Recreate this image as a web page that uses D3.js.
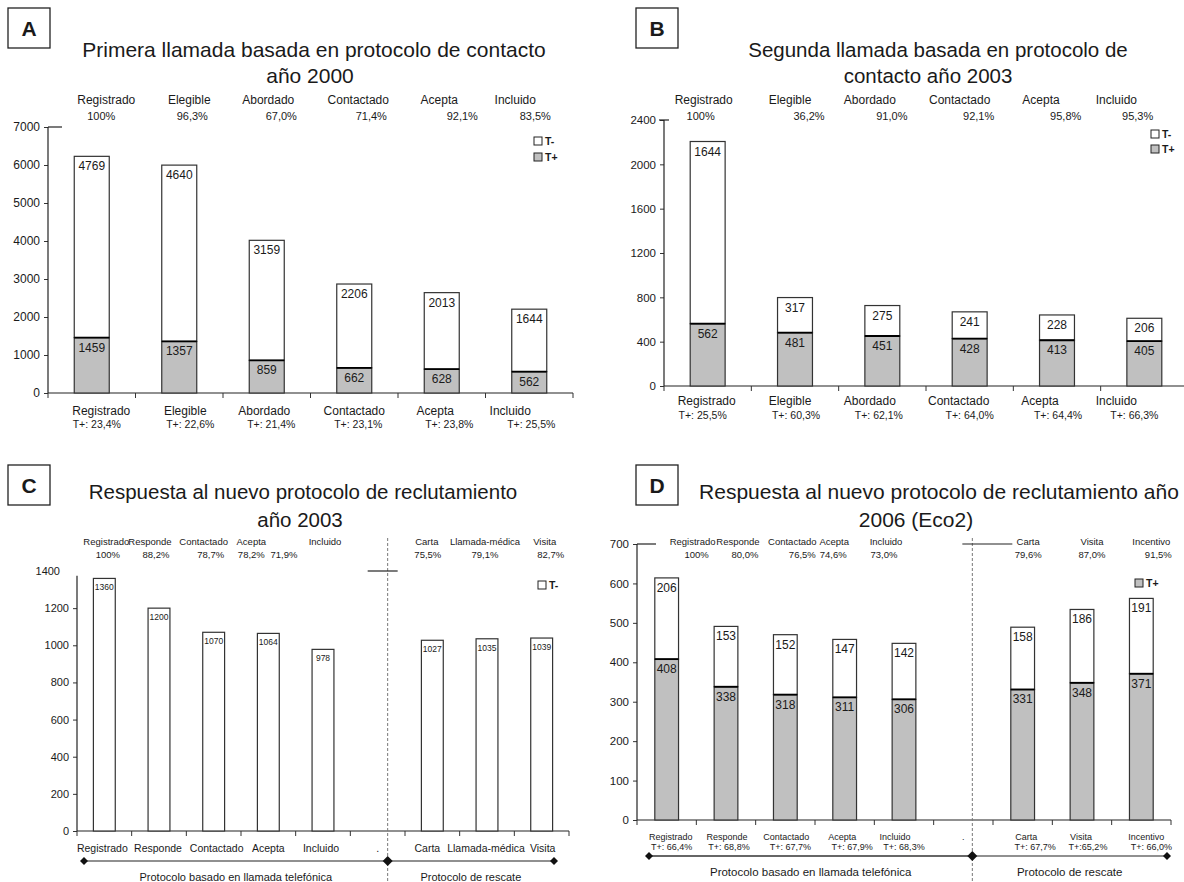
<!DOCTYPE html>
<html><head><meta charset="utf-8">
<script src="https://cdn.jsdelivr.net/npm/d3@7"></script>
<style>
body{margin:0;background:#fff}
svg text{font-family:"Liberation Sans",Arial,Helvetica,sans-serif;fill:#1a1a1a}
</style>
</head><body>
<svg id="chart" width="1184" height="882"></svg>
<script>
// ---------------- DATA ----------------
// Panel A
const catsA = ["Registrado","Elegible","Abordado","Contactado","Acepta","Incluido"];
const posA = [1459,1357,859,662,628,562];
const negA = [4769,4640,3159,2206,2013,1644];
const pctA = ["100%","96,3%","67,0%","71,4%","92,1%","83,5%"];
const tpA = ["T+: 23,4%","T+: 22,6%","T+: 21,4%","T+: 23,1%","T+: 23,8%","T+: 25,5%"];
const ticksA = [0,1000,2000,3000,4000,5000,6000,7000];
// Panel B
const catsB = ["Registrado","Elegible","Abordado","Contactado","Acepta","Incluido"];
const posB = [562,481,451,428,413,405];
const negB = [1644,317,275,241,228,206];
const pctB = ["100%","36,2%","91,0%","92,1%","95,8%","95,3%"];
const tpB = ["T+: 25,5%","T+: 60,3%","T+: 62,1%","T+: 64,0%","T+: 64,4%","T+: 66,3%"];
const ticksB = [0,400,800,1200,1600,2000,2400];
// Panel C
const catsC = ["Registrado","Responde","Contactado","Acepta","Incluido",".","Carta","Llamada-médica","Visita"];
const totC = [1360,1200,1070,1064,978,null,1027,1035,1039];
const pctC = ["100%","88,2%","78,7%","78,2%","71,9%",null,"75,5%","79,1%","82,7%"];
const ticksC = [0,200,400,600,800,1000,1200];
const topTickC = 1400;
// Panel D
const catsD = ["Registrado","Responde","Contactado","Acepta","Incluido",".","Carta","Visita","Incentivo"];
const posD = [408,338,318,311,306,null,331,348,371];
const negD = [206,153,152,147,142,null,158,186,191];
const pctD = ["100%","80,0%","76,5%","74,6%","73,0%",null,"79,6%","87,0%","91,5%"];
const tpD = ["T+: 66,4%","T+: 68,8%","T+: 67,7%","T+: 67,9%","T+: 68,3%",null,"T+: 67,7%","T+:65,2%","T+: 66,0%"];
const ticksD = [0,100,200,300,400,500,600,700];

const protoLeft = "Protocolo basado en llamada telefónica";
const protoRight = "Protocolo de  rescate";
const GRAY = "#c0c0c0";

// ---------------- DRAW ----------------
const svg = d3.select("#chart");

function drawPanel(p) {
  const g = svg.append("g");
  const x = d3.scaleBand().domain(p.cats).range(p.xr).paddingInner(0.6).paddingOuter(0.3);
  const y = d3.scaleLinear().domain(p.yd).range(p.yr);
  const step = x.step();
  const cx = c => x(c) + x.bandwidth() / 2;

  // letter box
  g.append("rect").attr("x", p.box[0]).attr("y", p.box[1]).attr("width", 42).attr("height", 40)
    .attr("fill", "#fff").attr("stroke", "#222").attr("stroke-width", 1.3);
  g.append("text").attr("x", p.box[0] + 21).attr("y", p.box[1] + 28).attr("text-anchor", "middle")
    .attr("font-size", 21).attr("font-weight", "bold").text(p.letter);

  // title
  p.title.forEach((t, i) => {
    g.append("text").attr("x", t[1]).attr("y", p.titleY[i]).attr("text-anchor", "middle")
      .attr("font-size", p.titleFont).text(t[0]);
  });

  // y axis
  const ya = d3.axisLeft(y).tickValues(p.yticks).tickFormat(d3.format("d"))
    .tickSize(4).tickPadding(4).tickSizeOuter(0);
  const yg = g.append("g").attr("transform", `translate(${p.xr[0]},0)`).call(ya);
  yg.select(".domain").remove();
  yg.selectAll("text").attr("font-size", p.tickFont).attr("fill", "#1a1a1a")
    .style("font-family", "'Liberation Sans',Arial,sans-serif");
  yg.selectAll("line").attr("stroke", "#333");
  g.append("line").attr("x1", p.xr[0]).attr("x2", p.xr[0])
    .attr("y1", y(0)).attr("y2", y(p.axisTop)).attr("stroke", "#222").attr("stroke-width", 1.2);
  if (p.topLine) {
    g.append("line").attr("x1", p.xr[0] + p.topLine[0]).attr("x2", p.xr[0] + p.topLine[1])
      .attr("y1", y(p.yd[1])).attr("y2", y(p.yd[1])).attr("stroke", "#222").attr("stroke-width", 1.2);
  }

  // x axis
  g.append("line").attr("x1", p.xr[0]).attr("x2", p.xr[1]).attr("y1", y(0)).attr("y2", y(0))
    .attr("stroke", "#222").attr("stroke-width", 1.2);
  d3.range(p.cats.length + 1).forEach(i => {
    const xx = p.xr[0] + i * step;
    g.append("line").attr("x1", xx).attr("x2", xx).attr("y1", y(0)).attr("y2", y(0) + 5)
      .attr("stroke", "#333");
  });

  // bars
  p.cats.forEach((c, i) => {
    const pos = p.pos ? p.pos[i] : 0;
    const neg = p.neg[i];
    if (neg == null) return;
    const bx = x(c), bw = x.bandwidth();
    if (p.pos) {
      g.append("rect").attr("x", bx).attr("y", y(pos)).attr("width", bw).attr("height", y(0) - y(pos))
        .attr("fill", GRAY).attr("stroke", "#333").attr("stroke-width", 1.2);
    }
    g.append("rect").attr("x", bx).attr("y", y(pos + neg)).attr("width", bw)
      .attr("height", y(pos) - y(pos + neg))
      .attr("fill", "#fff").attr("stroke", "#333").attr("stroke-width", 1.2);
    if (p.pos) {
      g.append("line").attr("x1", bx).attr("x2", bx + bw).attr("y1", y(pos)).attr("y2", y(pos))
        .attr("stroke", "#000").attr("stroke-width", 1.8);
      g.append("text").attr("x", cx(c)).attr("y", y(pos) + p.barDy).attr("text-anchor", "middle")
        .attr("font-size", p.barFont).text(pos);
    }
    g.append("text").attr("x", cx(c)).attr("y", y(pos + neg) + p.barDy).attr("text-anchor", "middle")
      .attr("font-size", p.barFont).text(neg);
  });

  // top labels
  p.cats.forEach((c, i) => {
    if (p.pct[i] == null) return;
    g.append("text").attr("x", cx(c) + p.topNameOff[i]).attr("y", p.topY[0]).attr("text-anchor", "middle")
      .attr("font-size", p.topFont[0]).text(c);
    g.append("text").attr("x", cx(c) + p.topPctOff[i]).attr("y", p.topY[1]).attr("text-anchor", "middle")
      .attr("font-size", p.topFont[1]).text(p.pct[i]);
  });

  // bottom labels
  p.cats.forEach((c, i) => {
    g.append("text").attr("x", cx(c) + p.botNameOff[i]).attr("y", p.botY[0]).attr("text-anchor", "middle")
      .attr("font-size", p.botFont[0]).text(c);
    if (p.tp && p.tp[i] != null) {
      g.append("text").attr("x", cx(c) + p.botPctOff[i]).attr("y", p.botY[1]).attr("text-anchor", "middle")
        .attr("font-size", p.botFont[1]).text(p.tp[i]);
    }
  });

  // legend
  p.legend.items.forEach((it, i) => {
    const ly = p.legend.y + i * p.legend.dy;
    g.append("rect").attr("x", p.legend.x - 4).attr("y", ly - 4).attr("width", 8).attr("height", 8)
      .attr("fill", it[1]).attr("stroke", "#222").attr("stroke-width", 1);
    g.append("text").attr("x", p.legend.x + 7).attr("y", ly + 4).attr("font-size", 10.5)
      .attr("font-weight", "bold").text(it[0]);
  });

  // protocol split (C & D)
  if (p.split) {
    const sx = x(".") + x.bandwidth() / 2 + p.split.dx;
    g.append("line").attr("x1", sx).attr("x2", sx).attr("y1", p.split.y0).attr("y2", 882)
      .attr("stroke", "#777").attr("stroke-width", 1).attr("stroke-dasharray", "3,2");
    g.append("line").attr("x1", sx + p.split.hl[0]).attr("x2", sx + p.split.hl[1])
      .attr("y1", y(p.yd[1])).attr("y2", y(p.yd[1])).attr("stroke", "#222").attr("stroke-width", 1.2);
    const ay = p.split.ay;
    const xl = p.xr[0] + p.split.l, xr = p.xr[1] - p.split.r;
    g.append("line").attr("x1", xl).attr("x2", sx).attr("y1", ay).attr("y2", ay)
      .attr("stroke", p.split.lcol).attr("stroke-width", p.split.lw);
    g.append("line").attr("x1", sx).attr("x2", xr).attr("y1", ay).attr("y2", ay)
      .attr("stroke", "#222").attr("stroke-width", 1.2);
    [xl, sx, xr].forEach(d => {
      const s = d === sx ? 5 : 4;
      g.append("path").attr("d", `M${d},${ay - s}L${d + s},${ay}L${d},${ay + s}L${d - s},${ay}Z`).attr("fill", "#111");
    });
    g.append("text").attr("x", (xl + sx) / 2).attr("y", p.split.ty).attr("text-anchor", "middle")
      .attr("font-size", p.split.tf).text(protoLeft);
    g.append("text").attr("x", (sx + xr) / 2 + p.split.rdx).attr("y", p.split.ty).attr("text-anchor", "middle")
      .attr("font-size", p.split.tf).text(protoRight);
  }
  return {x, y, g};
}

// Panel A
drawPanel({
  letter: "A", box: [8, 8], titleFont: 21,
  title: [["Primera llamada basada en protocolo de contacto", 314], ["año 2000", 310]], titleY: [57, 83],
  cats: catsA, pos: posA, neg: negA, pct: pctA, tp: tpA,
  xr: [48, 573], yd: [0, 7000], yr: [393, 127], yticks: ticksA, axisTop: 7000, topLine: [0, 14],
  tickFont: 12, barFont: 12, barDy: 14,
  topY: [104, 120], topFont: [12, 11],
  topNameOff: [14.5, 10, 1.5, 4, -2.5, -14], topPctOff: [9.5, 13, 14.5, 17, 20.5, 6],
  botY: [415, 428], botFont: [12, 10.5],
  botNameOff: [9.5, 6, -2.5, 0, -6.5, -19], botPctOff: [5, 11, 4.5, 4, 7.5, 2],
  legend: {x: 538, y: 141, dy: 16, items: [["T-", "#fff"], ["T+", GRAY]]}
});

// Panel B
drawPanel({
  letter: "B", box: [636, 8], titleFont: 20.5,
  title: [["Segunda llamada basada en protocolo de", 938], ["contacto año 2003", 928]], titleY: [57, 83],
  cats: catsB, pos: posB, neg: negB, pct: pctB, tp: tpB,
  xr: [664, 1188], yd: [0, 2400], yr: [386, 120], yticks: ticksB, axisTop: 2400, topLine: [-5, 5],
  tickFont: 11.5, barFont: 12, barDy: 14,
  topY: [104, 120], topFont: [12, 11],
  topNameOff: [-4, -5, -12.5, -10, -16, -28], topPctOff: [-7, 14, 9.5, 9, 8.7, -6.7],
  botY: [405, 419], botFont: [12, 10.5],
  botNameOff: [-1, -5, -12.5, -11, -17, -28], botPctOff: [-5, 1, -3.5, 0, 1, -10],
  legend: {x: 1155, y: 134, dy: 15, items: [["T-", "#fff"], ["T+", GRAY]]}
});

// Panel C
const pC = drawPanel({
  letter: "C", box: [8, 465], titleFont: 20.5,
  title: [["Respuesta al nuevo protocolo de reclutamiento", 303], ["año 2003", 300]], titleY: [499, 527],
  cats: catsC, pos: null, neg: totC, pct: pctC, tp: null,
  xr: [77, 569], yd: [0, 1400], yr: [831, 571], yticks: ticksC, axisTop: 1375, topLine: null,
  tickFont: 11, barFont: 8.5, barDy: 12,
  topY: [545, 558], topFont: [9.5, 9.5],
  topNameOff: [2, -9, -10, -17, 2, 0, -5.5, -2, 3], topPctOff: [3.5, -3, -3, -17, -39, 0, -4.5, -2, 9],
  botY: [852, 0], botFont: [10.5, 10],
  botNameOff: [-2, -1, 3, 0, -2, 0, -5, -1, 1],
  legend: {x: 542, y: 585, dy: 15, items: [["T-", "#fff"]]},
  split: {dx: 10, y0: 538, hl: [-20, 10], ay: 861, l: 7, r: 15, lcol: "#222", lw: 1.2, ty: 881, tf: 11, rdx: 0}
});
pC.g.append("text").attr("x", 60).attr("y", pC.y(topTickC) + 4).attr("text-anchor", "end")
  .attr("font-size", 11).text(topTickC);

// Panel D
drawPanel({
  letter: "D", box: [636, 465], titleFont: 21,
  title: [["Respuesta al nuevo protocolo de reclutamiento año", 939], ["2006 (Eco2)", 916]], titleY: [499, 527],
  cats: catsD, pos: posD, neg: negD, pct: pctD, tp: tpD,
  xr: [637, 1171], yd: [0, 700], yr: [820, 544], yticks: ticksD, axisTop: 700, topLine: [0, 19],
  tickFont: 11.5, barFont: 12, barDy: 14,
  topY: [545, 558], topFont: [9.5, 9.5],
  topNameOff: [26, 12, 7, -10.5, -18, 0, 5.5, 10, 10], topPctOff: [30, 19, 17, -11.5, -20, 0, 5.5, 10, 17],
  botY: [840, 850], botFont: [9, 9],
  botNameOff: [4, 1, 1, -2.5, -9, 0, 3.5, -1, 5], botPctOff: [5, 3, 5, 7.5, 0, 0, 12.5, 6, 10],
  legend: {x: 1139, y: 583, dy: 15, items: [["T+", GRAY]]},
  split: {dx: 9, y0: 538, hl: [-10, 40], ay: 856, l: 12, r: 4, lcol: "#666", lw: 2, ty: 876, tf: 11.5, rdx: 0}
});
</script>
</body></html>
